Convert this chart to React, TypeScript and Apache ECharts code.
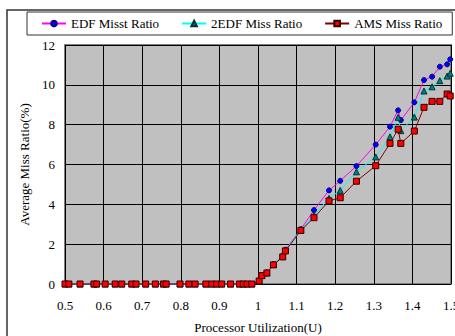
import React, { useEffect, useRef } from "react";
import * as echarts from "echarts";

const utilization = [
  0.5, 0.51, 0.539, 0.575, 0.582, 0.604, 0.63, 0.647, 0.673, 0.684, 0.709, 0.734, 0.755,
  0.762, 0.798, 0.821, 0.837, 0.865, 0.88, 0.893, 0.906, 0.929, 0.952, 0.962, 0.972, 0.984,
  1.003, 1.01, 1.023, 1.04, 1.064, 1.071, 1.111, 1.145, 1.184, 1.213, 1.255, 1.305, 1.342,
  1.363, 1.37, 1.405, 1.43, 1.451, 1.471, 1.49, 1.498,
];

const zeroRun = [0, 0, 0, 0, 0, 0, 0, 0, 0, 0, 0, 0, 0, 0, 0, 0, 0, 0, 0, 0, 0, 0, 0, 0, 0, 0];

const edfRise = [0.17, 0.45, 0.58, 1.0, 1.42, 1.72, 2.75, 3.71, 4.7, 5.18, 5.92, 7.0, 7.9, 8.72, 8.23, 9.12, 10.24, 10.41, 10.91, 11.03, 11.28];
const edf2Rise = [0.16, 0.43, 0.56, 0.98, 1.4, 1.7, 2.72, 3.45, 4.3, 4.7, 5.63, 6.38, 7.39, 8.37, 7.7, 8.38, 9.69, 9.9, 10.21, 10.44, 10.58];
const amsRise = [0.15, 0.42, 0.55, 0.96, 1.36, 1.66, 2.69, 3.33, 4.17, 4.33, 5.16, 5.94, 7.06, 7.77, 7.06, 7.68, 8.87, 9.17, 9.17, 9.54, 9.44];

const seriesNames = ["EDF Misst Ratio", "2EDF Miss Ratio", "AMS Miss Ratio"];
const yTicks = [0, 2, 4, 6, 8, 10, 12];

const FONT = '"Liberation Serif", "DejaVu Serif", serif';

function pairs(rise: number[]) {
  const vals = [...zeroRun, ...rise];
  return utilization.map((u, i) => [u, vals[i]]);
}

export default function App() {
  const ref = useRef<HTMLDivElement>(null);
  useEffect(() => {
    if (!ref.current) return;
    const chart = echarts.init(ref.current, null, { renderer: "svg" });
    chart.setOption({
      animation: false,
      backgroundColor: "#ffffff",
      textStyle: { fontFamily: FONT },
      graphic: [
        {
          type: "rect",
          shape: { x: 7, y: 10, width: 460, height: 400 },
          style: { fill: "none", stroke: "#333333", lineWidth: 1.5 },
          silent: true,
          z: 100,
        },
      ],
      legend: {
        left: 27,
        top: 12,
        width: 430,
        padding: [5, 10, 5, 14],
        itemGap: 22,
        itemWidth: 24,
        itemHeight: 7,
        borderColor: "#333333",
        borderWidth: 1,
        backgroundColor: "#ffffff",
        textStyle: { fontFamily: FONT, fontSize: 13, color: "#000" },
        data: seriesNames,
      },
      grid: {
        left: 65,
        right: 4,
        top: 45,
        bottom: 52,
        outerBoundsMode: "none",
        containLabel: false,
        show: true,
        backgroundColor: "#c0c0c0",
        borderColor: "#808080",
        borderWidth: 2,
      },
      xAxis: {
        type: "value",
        min: 0.5,
        max: 1.5,
        interval: 0.1,
        name: "Processor Utilization(U)",
        nameLocation: "middle",
        nameGap: 37,
        nameTextStyle: { fontFamily: FONT, fontSize: 13, color: "#000" },
        axisLine: { show: false },
        axisTick: { show: false },
        axisLabel: {
          fontFamily: FONT,
          fontSize: 13,
          color: "#000",
          margin: 15,
          formatter: (v: number) => String(Math.round(v * 10) / 10),
        },
        splitLine: { show: true, lineStyle: { color: "#000", width: 1 } },
      },
      yAxis: {
        type: "value",
        min: yTicks[0],
        max: yTicks[yTicks.length - 1],
        interval: 2,
        name: "Average Miss Ratio(%)",
        nameLocation: "middle",
        nameGap: 32,
        nameTextStyle: { fontFamily: FONT, fontSize: 13, color: "#000" },
        axisLine: { show: false },
        axisTick: { show: true, inside: true, length: 5, lineStyle: { color: "#000" } },
        axisLabel: { fontFamily: FONT, fontSize: 13, color: "#000", margin: 10 },
        splitLine: { show: true, lineStyle: { color: "#000", width: 1 } },
      },
      series: [
        {
          name: seriesNames[0],
          type: "line",
          data: pairs(edfRise),
          symbol: "circle",
          symbolSize: 5,
          clip: false,
          lineStyle: { color: "#ff00ff", width: 1 },
          itemStyle: { color: "#0000ff", borderColor: "#000080", borderWidth: 1 },
        },
        {
          name: seriesNames[1],
          type: "line",
          data: pairs(edf2Rise),
          symbol: "triangle",
          symbolSize: 6,
          clip: false,
          lineStyle: { color: "#00ffff", width: 1 },
          itemStyle: { color: "#008080", borderColor: "#003333", borderWidth: 1 },
        },
        {
          name: seriesNames[2],
          type: "line",
          data: pairs(amsRise),
          symbol: "rect",
          symbolSize: 6,
          clip: false,
          lineStyle: { color: "#800000", width: 1 },
          itemStyle: { color: "#ff0000", borderColor: "#330000", borderWidth: 1 },
        },
      ],
    });
    return () => chart.dispose();
  }, []);
  return (
    <div
      ref={ref}
      style={{ position: "fixed", left: 0, top: 0, width: 455, height: 336 }}
    />
  );
}
